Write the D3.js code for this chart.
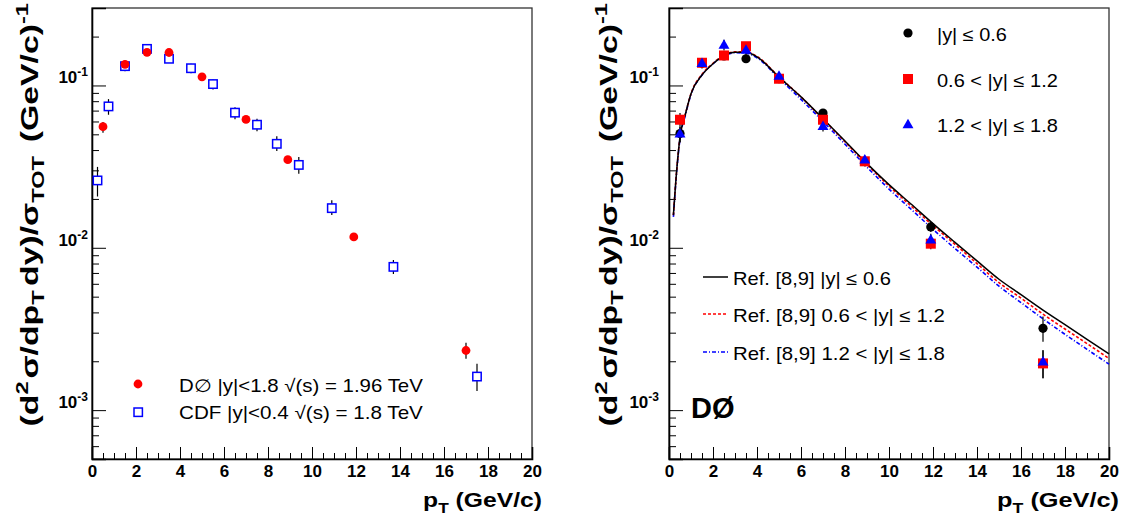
<!DOCTYPE html>
<html><head><meta charset="utf-8">
<script src="https://cdn.jsdelivr.net/npm/d3@7"></script>
<style>
body{margin:0;background:#fff}
svg{display:block;font-family:"Liberation Sans",Arial,Helvetica,sans-serif}
</style>
</head><body>
<svg id="c" width="1132" height="527"></svg>
<script>
// ---------------- DATA ----------------
const xTickLabels = [0,2,4,6,8,10,12,14,16,18,20];
const yTickValues = [0.001,0.01,0.1];
const yTickExponents = ["-3","-2","-1"];
const xDomain = [0,20];
const yDomain = [0.0005,0.3];

// Left panel: DØ (red circles), |y|<1.8, sqrt(s)=1.96 TeV
const d0_pt   = [0.5,1.5,2.5,3.5,5.0,7.0,8.9,11.9,17.0];
const d0_val  = [0.0557,0.135,0.160,0.1596,0.113,0.0618,0.0349,0.01167,0.00233];
const d0_lo   = [0.0512,0.129,0.154,0.154,0.109,0.0598,0.0337,0.0113,0.00207];
const d0_hi   = [0.0595,0.141,0.166,0.165,0.117,0.0638,0.0361,0.0120,0.00260];

// Left panel: CDF (open blue squares), |y|<0.4, sqrt(s)=1.8 TeV
const cdf_pt  = [0.25,0.75,1.5,2.5,3.5,4.5,5.5,6.5,7.5,8.4,9.4,10.9,13.7,17.5];
const cdf_val = [0.026,0.0743,0.1315,0.168,0.146,0.1277,0.102,0.068,0.0573,0.0437,0.0324,0.01755,0.00763,0.00161];
const cdf_lo  = [0.0207,0.066,0.1225,0.160,0.139,0.119,0.0945,0.062,0.0523,0.0394,0.0286,0.0159,0.0069,0.00131];
const cdf_hi  = [0.0315,0.0824,0.142,0.178,0.154,0.136,0.109,0.0735,0.0624,0.0486,0.0362,0.0196,0.0084,0.00193];

// Right panel: DØ data in three rapidity bins
const r_pt     = [0.5,1.5,2.5,3.5,5.0,7.0,8.9,11.9,17.0];
const y06_val  = [0.0505,0.137,0.152,0.146,0.110,0.0676,0.0340,0.01345,0.00319];
const y06_lo   = [0.0448,0.129,0.144,0.138,0.104,0.0640,0.0318,0.0125,0.00264];
const y06_hi   = [0.0560,0.145,0.160,0.154,0.116,0.0712,0.0362,0.0144,0.00377];
const y12_val  = [0.0615,0.138,0.153,0.1744,0.110,0.0615,0.0341,0.0106,0.00194];
const y12_lo   = [0.0560,0.130,0.145,0.165,0.104,0.0580,0.0318,0.0098,0.00157];
const y12_hi   = [0.0676,0.146,0.161,0.184,0.116,0.0650,0.0364,0.0119,0.00234];
const y18_val  = [0.0500,0.136,0.176,0.164,0.1136,0.0556,0.0346,0.0111,0.00197];
const y18_lo   = [0.0445,0.127,0.164,0.154,0.107,0.0520,0.0322,0.0100,0.00157];
const y18_hi   = [0.0556,0.145,0.191,0.174,0.120,0.0592,0.0370,0.0122,0.00234];

// Right panel: theory curves Ref. [8,9]
const th_pt    = [0.2,0.35,0.5,0.75,1.0,1.5,2.0,2.5,3.0,3.5,4.0,5.0,6.0,7.0,8.0,9.0,10.0,11.0,12.0,13.0,14.0,15.0,16.0,17.0,18.0,19.0,20.0];
const th_y06   = [0.0159,0.030,0.048,0.067,0.089,0.116,0.136,0.153,0.160,0.160,0.150,0.1125,0.085,0.0624,0.0455,0.0330,0.0245,0.0186,0.0141,0.0108,0.0083,0.0064,0.00514,0.00413,0.00336,0.00273,0.00222];
const th_y12   = [0.0159,0.030,0.048,0.067,0.089,0.117,0.137,0.154,0.161,0.161,0.151,0.1130,0.085,0.0620,0.0450,0.0326,0.0240,0.0181,0.0137,0.0105,0.0080,0.0061,0.00490,0.00390,0.00316,0.00257,0.00208];
const th_y18   = [0.0155,0.0295,0.047,0.066,0.088,0.116,0.136,0.152,0.159,0.158,0.148,0.1105,0.082,0.0600,0.0435,0.0314,0.0230,0.0173,0.0130,0.0099,0.0076,0.0058,0.00460,0.00365,0.00293,0.00237,0.00192];

// ---------------- DRAW ----------------
const svg = d3.select("#c");
svg.append("rect").attr("width",1132).attr("height",527).attr("fill","#fff");
const TOP = 8, BOT = 459;

function rich(textSel, parts, base){
  let off = 0;
  parts.forEach(p=>{
    const t = textSel.append("tspan").text(p[0]);
    let target = p[1]==="sup" ? -0.42*base : (p[1]==="sub" ? 0.28*base : 0);
    if(p[1]) t.attr("font-size", base*0.7);
    t.attr("dy", target-off);
    if(p[2]) t.attr("dx", p[2]);
    off = target;
  });
}
// stretch a text horizontally (around its anchor point) to a target width
function fit(sel, targetW){
  const w = sel.node().getComputedTextLength();
  const ax = +sel.attr("x"), ay = +sel.attr("y");
  sel.attr("transform",`translate(${ax},${ay}) scale(${targetW/w},1) translate(${-ax},${-ay})`);
}

function panel(x0, x1, labelRight, titleX, xTitleW){
  const x = d3.scaleLinear().domain(xDomain).range([x0,x1]);
  const y = d3.scaleLog().domain(yDomain).range([BOT,TOP]);
  const g = svg.append("g");
  g.append("rect").attr("x",x0).attr("y",TOP).attr("width",x1-x0).attr("height",BOT-TOP)
    .attr("fill","none").attr("stroke","#333").attr("stroke-width",1.3);

  const xMinor = d3.range(0,20.001,0.5);
  g.append("g").attr("transform",`translate(0,${BOT})`)
    .call(d3.axisBottom(x).tickValues(xMinor).tickSize(-6).tickFormat(""))
    .call(a=>a.select(".domain").remove());
  const xa = g.append("g").attr("transform",`translate(0,${BOT})`)
    .call(d3.axisBottom(x).tickValues(xTickLabels).tickSize(-12).tickPadding(6).tickFormat(d3.format("d")));
  xa.select(".domain").attr("stroke","#000").attr("stroke-width",1.6);
  xa.selectAll("text").attr("font-size",17).attr("font-weight","bold").attr("fill","#000")
    .attr("font-family","'Liberation Sans',Arial,sans-serif");

  const yMinor = [];
  [1e-4,1e-3,1e-2,1e-1].forEach(dec=>{ for(let k=2;k<=9;k++){ const v=dec*k; if(v>=yDomain[0]&&v<=yDomain[1]) yMinor.push(v);} });
  g.append("g").attr("transform",`translate(${x0},0)`)
    .call(d3.axisLeft(y).tickValues(yMinor).tickSize(-7).tickFormat(""))
    .call(a=>a.select(".domain").remove());
  const ya = g.append("g").attr("transform",`translate(${x0},0)`)
    .call(d3.axisLeft(y).tickValues(yTickValues).tickSize(-14).tickFormat(""));
  ya.select(".domain").attr("stroke","#000").attr("stroke-width",1.6);
  g.selectAll(".tick line").attr("stroke","#000");
  yTickValues.forEach((v,i)=>{
    const t = g.append("text").attr("x",labelRight).attr("y",y(v)-2)
      .attr("text-anchor","end").attr("font-size",17).attr("font-weight","bold");
    t.append("tspan").text("10");
    t.append("tspan").text(yTickExponents[i]).attr("font-size",12).attr("dy",-7);
  });

  const xt = g.append("text").attr("x",x1+10).attr("y",507).attr("text-anchor","end")
    .attr("font-size",21).attr("font-weight","bold");
  rich(xt, [["p"],["T","sub"],[" (GeV/c)"]], 21);
  fit(xt, xTitleW);

  const yt = g.append("text").attr("x",0).attr("y",0)
    .attr("text-anchor","end").attr("font-size",23).attr("font-weight","bold");
  rich(yt, [["(d"],["2","sup"],["σ/dp",null,2],["T","sub"],["dy)/σ",null,3],["TOT","sub"],[" (GeV/c)",null,3],["-1","sup"]], 23);
  const yw = yt.node().getComputedTextLength();
  yt.attr("transform",`translate(${titleX},3) rotate(-90) scale(${412/yw},1)`);
  return {g,x,y};
}

function errBars(g,x,y,pt,lo,hi){
  g.append("g").selectAll("line").data(pt).join("line")
    .attr("x1",d=>x(d)).attr("x2",d=>x(d))
    .attr("y1",(d,i)=>y(lo[i])).attr("y2",(d,i)=>y(hi[i]))
    .attr("stroke","#000").attr("stroke-width",1.2);
}

// ---- Left panel ----
{
  const {g,x,y} = panel(92,532,88,38,119);
  errBars(g,x,y,cdf_pt,cdf_lo,cdf_hi);
  errBars(g,x,y,d0_pt,d0_lo,d0_hi);
  g.append("g").selectAll("rect").data(cdf_pt).join("rect")
    .attr("x",d=>x(d)-4.2).attr("y",(d,i)=>y(cdf_val[i])-4.2).attr("width",8.4).attr("height",8.4)
    .attr("fill","#fff").attr("stroke","#0000ff").attr("stroke-width",1.5);
  g.append("g").selectAll("circle").data(d0_pt).join("circle")
    .attr("cx",d=>x(d)).attr("cy",(d,i)=>y(d0_val[i])).attr("r",4.4).attr("fill","#ff0000");
  g.append("circle").attr("cx",138).attr("cy",384).attr("r",4.4).attr("fill","#ff0000");
  g.append("rect").attr("x",134).attr("y",408).attr("width",8.4).attr("height",8.4)
    .attr("fill","#fff").attr("stroke","#0000ff").attr("stroke-width",1.5);
  const l1 = g.append("text").attr("x",179).attr("y",392.5).attr("font-size",18).text("D\u2205 |y|<1.8 \u221A(s) = 1.96 TeV");
  fit(l1,244);
  const l2 = g.append("text").attr("x",179).attr("y",419).attr("font-size",18).text("CDF |y|<0.4 \u221A(s) = 1.8 TeV");
  fit(l2,244);
}

// ---- Right panel ----
{
  const {g,x,y} = panel(669,1109,659,617,122);
  const line = d3.line().x((d,i)=>x(th_pt[i])).y(d=>y(d)).curve(d3.curveMonotoneX);
  const cg = g.append("g").attr("fill","none");
  cg.append("path").attr("d",line(th_y18)).attr("stroke","#0000ff").attr("stroke-width",1.6).attr("stroke-dasharray","4,2,1,2");
  cg.append("path").attr("d",line(th_y12)).attr("stroke","#ff0000").attr("stroke-width",1.6).attr("stroke-dasharray","3,2");
  cg.append("path").attr("d",line(th_y06)).attr("stroke","#000").attr("stroke-width",1.5);

  errBars(g,x,y,r_pt,y06_lo,y06_hi);
  errBars(g,x,y,r_pt,y12_lo,y12_hi);
  errBars(g,x,y,r_pt,y18_lo,y18_hi);
  g.append("g").selectAll("circle").data(r_pt).join("circle")
    .attr("cx",d=>x(d)).attr("cy",(d,i)=>y(y06_val[i])).attr("r",4.6).attr("fill","#000");
  g.append("g").selectAll("rect").data(r_pt).join("rect")
    .attr("x",d=>x(d)-5).attr("y",(d,i)=>y(y12_val[i])-5).attr("width",10).attr("height",10).attr("fill","#ff0000");
  const tri = d3.symbol(d3.symbolTriangle).size(52);
  g.append("g").selectAll("path").data(r_pt).join("path")
    .attr("transform",(d,i)=>`translate(${x(d)},${y(y18_val[i])})`).attr("d",tri).attr("fill","#0000ff");

  g.append("circle").attr("cx",908).attr("cy",33).attr("r",4.6).attr("fill","#000");
  g.append("rect").attr("x",903).attr("y",74).attr("width",10).attr("height",10).attr("fill","#ff0000");
  g.append("path").attr("transform","translate(908,125)").attr("d",tri).attr("fill","#0000ff");
  const lt = [["|y| \u2264 0.6",41,70],["0.6 < |y| \u2264 1.2",87,121],["1.2 < |y| \u2264 1.8",132,121]];
  lt.forEach(d=>{ const t=g.append("text").attr("x",937).attr("y",d[1]).attr("font-size",18).text(d[0]); fit(t,d[2]); });

  const ll = [["Ref. [8,9] |y| \u2264 0.6",277,"#000",null,158],
              ["Ref. [8,9] 0.6 < |y| \u2264 1.2",314,"#ff0000","3,2",212],
              ["Ref. [8,9] 1.2 < |y| \u2264 1.8",352,"#0000ff","4,2,1,2",212]];
  ll.forEach(d=>{
    g.append("line").attr("x1",703).attr("x2",728).attr("y1",d[1]).attr("y2",d[1])
      .attr("stroke",d[2]).attr("stroke-width",1.5).attr("stroke-dasharray",d[3]);
    const t = g.append("text").attr("x",733).attr("y",d[1]+8).attr("font-size",18).text(d[0]);
    fit(t,d[4]);
  });
  g.append("text").attr("x",691).attr("y",418).attr("font-size",29).attr("font-weight","bold").text("DØ");
}
</script>
</body></html>
